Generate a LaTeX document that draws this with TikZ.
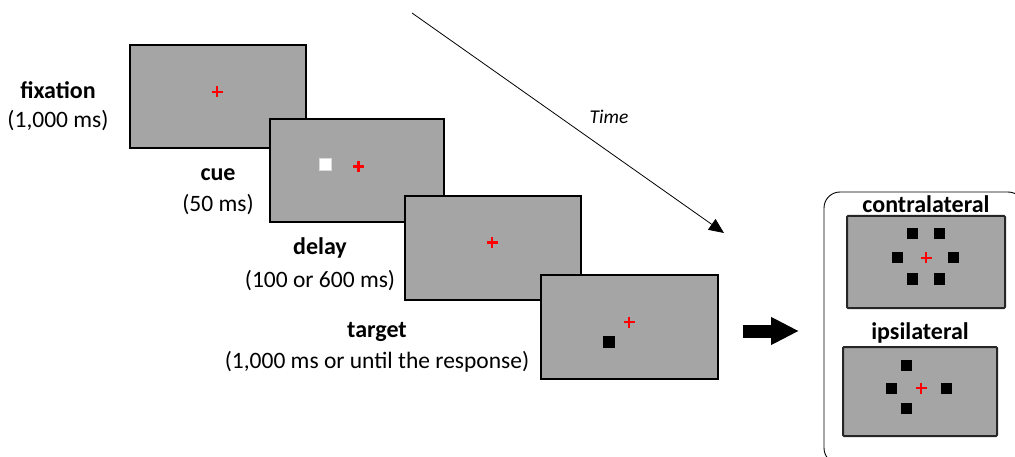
\documentclass[tikz,border=0pt]{standalone}
\usepackage{fontspec}
\setmainfont{Carlito}
\usetikzlibrary{arrows.meta,calc}

\definecolor{screengray}{HTML}{A5A5A5}
\definecolor{fixred}{HTML}{FF0000}

\tikzset{
  screen/.style={draw=black, line width=2pt, fill=screengray,
    minimum width=#1, minimum height=103pt, inner sep=0pt},
  screen/.default=176pt,
  smallscreen/.style={draw=black!85, line width=2pt, fill=screengray,
    inner sep=0pt, rounded corners=1pt},
  lbl/.style={font=\fontsize{23.5}{28}\selectfont, align=center, inner sep=0pt},
  hdr/.style={font=\fontsize{24}{28}\selectfont\bfseries, inner sep=0pt},
  stim/.style={fill=black, minimum size=11pt, inner sep=0pt},
  cuebox/.style={fill=white, draw=white!85!black, line width=0.5pt, minimum size=12pt, inner sep=0pt},
  timearrow/.style={line width=0.8pt, -{Triangle[length=15pt,width=13pt]}},
  bigarrow/.style={line width=13pt, -{Triangle[length=28pt,width=26pt]}},
}
% fixation cross
\newcommand{\fixcross}[1]{%
  \draw[fixred, line width=2.2pt] ($(#1)+(-5.5,0)$) -- ($(#1)+(5.5,0)$)
    ($(#1)+(0,-5.5)$) -- ($(#1)+(0,5.5)$);}

\begin{document}
\begin{tikzpicture}[x=1pt, y=-1pt]
\useasboundingbox (0,0) rectangle (1015,457);

% sequence of trial screens, each one drawn on top of the previous
\node[screen] (s1) at (218,96.5) {};
\coordinate (c1) at (217,92);
\fixcross{c1}

\node[screen=174pt] (s2) at (357,170.5) {};
\node[cuebox] (cue) at (325.5,164.5) {};
\coordinate (c2) at (358.5,166.5);
\fixcross{c2}

\node[screen] (s3) at (493,248) {};
\coordinate (c3) at (492,242.5);
\fixcross{c3}

\node[screen=177pt] (s4) at (629.5,327) {};
\coordinate (c4) at (629,322);
\fixcross{c4}
\node[stim, minimum size=12pt] (tg) at (609,342) {};

% phase labels
\node[hdr] (l1a) at (58,90) {fixation};
\node[lbl] (l1b) at (58,121) {(1,000 ms)};
\node[hdr] (l2a) at (218,175) {cue};
\node[lbl] (l2b) at (218,205) {(50 ms)};
\node[hdr] (l3a) at (320,248) {delay};
\node[lbl] (l3b) at (320,281) {(100 or 600 ms)};
\node[hdr] (l4a) at (377,332) {target};
\node[lbl] (l4b) at (377,362) {(1,000 ms or until the response)};

% time axis
\coordinate (t0) at (412,13);
\coordinate (t1) at (724,233);
\draw[timearrow] (t0) -- (t1);
\node[font=\fontsize{19.5}{23}\selectfont\itshape, inner sep=0pt] (tl) at (609,117) {Time};

% arrow towards the condition panel
\coordinate (b0) at (743,331);
\coordinate (b1) at (799,331);
\draw[bigarrow] (b0) -- (b1);

% condition panel
\node[draw=black, line width=0.9pt, rounded corners=16pt, minimum width=200pt,
  minimum height=272pt, inner sep=0pt] (panel) at (924,328) {};

\node[hdr] (h1) at (926,204) {contralateral};
\node[smallscreen, minimum width=158pt, minimum height=92pt] (cs) at (926,262) {};
\coordinate (cc) at (926,258);
\fixcross{cc}
\node[stim] (ca) at (912,234) {};
\node[stim] (cb) at (939,234) {};
\node[stim] (cc1) at (897,258) {};
\node[stim] (cd) at (953,258) {};
\node[stim] (ce) at (912,279) {};
\node[stim] (cf) at (939,279) {};

\node[hdr] (h2) at (920,333) {ipsilateral};
\node[smallscreen, minimum width=154pt, minimum height=89pt] (is) at (920,391.5) {};
\coordinate (ic) at (921,388);
\fixcross{ic}
\node[stim] (ia) at (906,365) {};
\node[stim] (ib) at (891,388) {};
\node[stim] (id) at (946,388) {};
\node[stim] (ie) at (906,408) {};
\end{tikzpicture}
\end{document}
